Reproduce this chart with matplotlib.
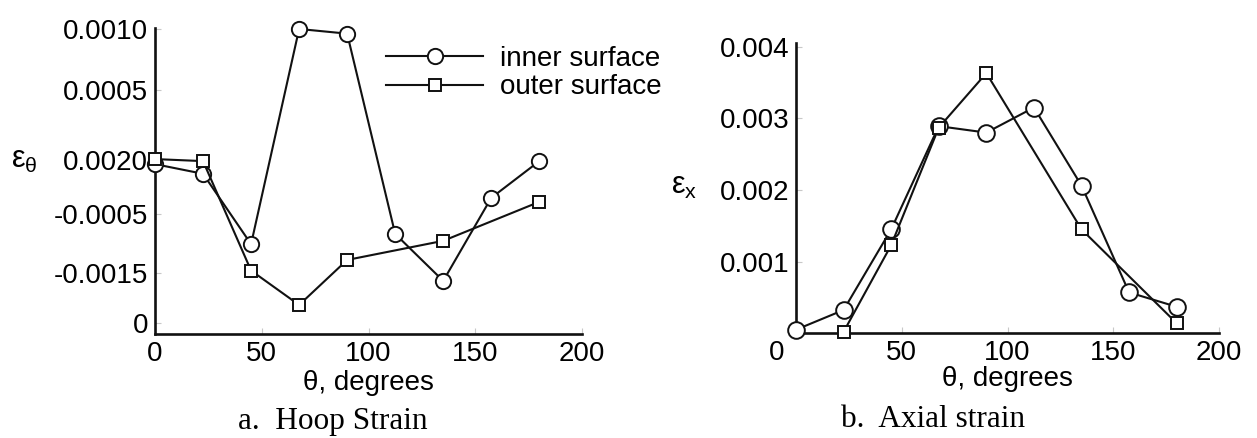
import matplotlib
matplotlib.use("Agg")
import matplotlib.pyplot as plt
from matplotlib.transforms import ScaledTranslation

# ---------------- data ----------------
# Hoop strain (left panel)
hoop_theta_inner = [0, 22.5, 45, 67.5, 90, 112.5, 135, 157.5, 180]
hoop_inner = [-0.000387, -0.000486, -0.001208, 0.001000, 0.000952, -0.001103, -0.001585, -0.000733, -0.000356]
hoop_theta_outer = [0, 22.5, 45, 67.5, 90, 135, 180]
hoop_outer = [-0.000335, -0.000356, -0.001479, -0.001832, -0.001370, -0.001174, -0.000774]
hoop_tick_pos = [0.001000, 0.000369, -0.000342, -0.000897, -0.001500, -0.002014]
hoop_tick_lab = ["0.0010", "0.0005", "0.0020", "-0.0005", "-0.0015", "0"]

# Axial strain (right panel)
ax_theta_inner = [0, 22.5, 45, 67.5, 90, 112.5, 135, 157.5, 180]
ax_inner = [0.00005, 0.000325, 0.00145, 0.00289, 0.00280, 0.00315, 0.00206, 0.00057, 0.00037]
ax_theta_outer = [22.5, 45, 67.5, 90, 135, 180]
ax_outer = [0.00002, 0.00123, 0.00287, 0.00363, 0.00145, 0.00014]
ax_tick_pos = [0.001, 0.002, 0.003, 0.004]
ax_tick_lab = ["0.001", "0.002", "0.003", "0.004"]

x_ticks = [0, 50, 100, 150, 200]
x_tick_lab = ["0", "50", "100", "150", "200"]

series_labels = ["inner surface", "outer surface"]

# ---------------- style ----------------
plt.rcParams['font.family'] = ['Liberation Sans', 'DejaVu Sans']
plt.rcParams['mathtext.fontset'] = 'custom'
plt.rcParams['mathtext.rm'] = 'Liberation Sans'
plt.rcParams['mathtext.it'] = 'Liberation Sans'
FS = 20
W, H = 1257, 438
fig = plt.figure(figsize=(W / 100, H / 100), dpi=100)

def px_axes(l, r, t, b):
    return fig.add_axes([l / W, 1 - b / H, (r - l) / W, (b - t) / H])

def style(ax):
    for s in ['top', 'right']:
        ax.spines[s].set_visible(False)
    for s in ['left', 'bottom']:
        ax.spines[s].set_linewidth(1.9)
        ax.spines[s].set_color('#111111')
    ax.tick_params(axis='both', direction='in', length=4, width=0.8,
                   color='#c8c8c8', labelsize=FS, pad=5)

lw = 1.5
# ---------------- left ----------------
axL = px_axes(155, 582, 28, 334)
style(axL)
axL.plot(hoop_theta_inner, hoop_inner, '-o', color='#111111', lw=lw, ms=11,
         mfc='white', mec='#111111', mew=1.4, label=series_labels[0], clip_on=False, zorder=3)
axL.plot(hoop_theta_outer, hoop_outer, '-s', color='#111111', lw=lw, ms=8.5,
         mfc='white', mec='#111111', mew=1.4, label=series_labels[1], clip_on=False, zorder=4)
axL.set_xlim(0, 200)
axL.set_ylim(-0.002130, 0.001010)
axL.set_xticks(x_ticks)
axL.set_xticklabels(x_tick_lab)
axL.set_yticks(hoop_tick_pos)
axL.set_yticklabels(hoop_tick_lab)
axL.set_xlabel("θ, degrees", fontsize=FS, labelpad=2)
fig.text(11 / W, 1 - 160 / H, r"$\mathrm{ε_θ}$", fontsize=FS + 2, va='center', ha='left')
axL.legend(loc='upper left', bbox_to_anchor=(386 / W, 1 - 46 / H),
           bbox_transform=fig.transFigure, frameon=False, fontsize=FS,
           handlelength=3.5, handletextpad=0.6, labelspacing=0.08,
           borderpad=0, borderaxespad=0)

# ---------------- right ----------------
axR = px_axes(796, 1219, 43.3, 333.3)
style(axR)
axR.plot(ax_theta_inner, ax_inner, '-o', color='#111111', lw=lw, ms=12,
         mfc='white', mec='#111111', mew=1.4, clip_on=False, zorder=3)
axR.plot(ax_theta_outer, ax_outer, '-s', color='#111111', lw=lw, ms=8.5,
         mfc='white', mec='#111111', mew=1.4, clip_on=False, zorder=4)
axR.set_xlim(0, 200)
axR.set_ylim(0, 0.004046)
axR.set_xticks(x_ticks)
axR.set_xticklabels(x_tick_lab)
t0 = axR.get_xticklabels()[0]
t0.set_transform(t0.get_transform() + ScaledTranslation(-19 / 100, 0, fig.dpi_scale_trans))
axR.set_yticks(ax_tick_pos)
axR.set_yticklabels(ax_tick_lab)
axR.set_xlabel("θ, degrees", fontsize=FS, labelpad=0)
fig.text(671 / W, 1 - 186 / H, r"$\mathrm{ε_x}$", fontsize=FS + 2, va='center', ha='left')

# ---------------- captions ----------------
fig.text(333 / W, 1 - 429 / H, "a.  Hoop Strain", fontsize=22.5, family='Liberation Serif',
         ha='center', va='baseline')
fig.text(933 / W, 1 - 427 / H, "b.  Axial strain", fontsize=22.5, family='Liberation Serif',
         ha='center', va='baseline')

fig.savefig("out.png", dpi=100)
